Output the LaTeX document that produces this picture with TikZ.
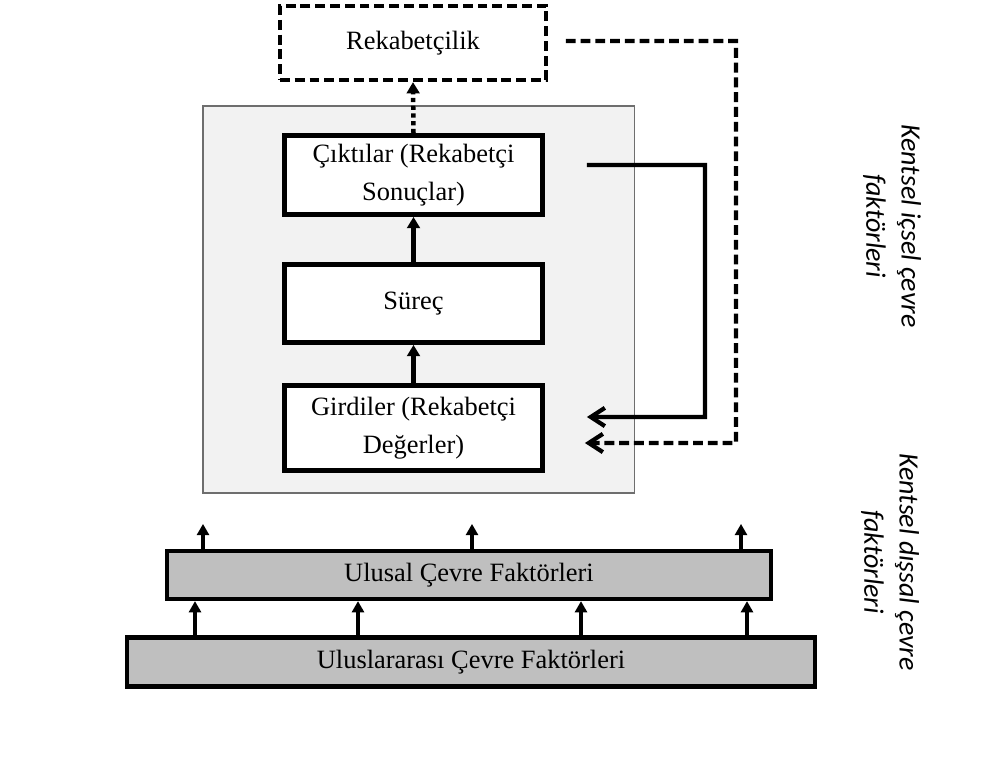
\documentclass[tikz,border=0pt]{standalone}
\usepackage{fontspec}
\setmainfont{Liberation Serif}
\newfontfamily\sidefont{Carlito}
\usepackage{xcolor}
\definecolor{panelbg}{HTML}{F2F2F2}
\definecolor{panelline}{HTML}{6E6E6E}
\definecolor{barbg}{HTML}{BFBFBF}
\usetikzlibrary{arrows.meta,positioning}

\tikzset{
  stagebox/.style={draw, line width=3.4pt, fill=white, minimum width=6.45cm,
    align=center, font=\fontsize{18.8}{27}\selectfont},
  goalbox/.style={draw, line width=3pt, fill=white, minimum width=6.65cm,
    minimum height=1.85cm, dash pattern=on 7pt off 3.5pt,
    font=\fontsize{18.8}{27}\selectfont},
  panel/.style={draw=panelline, line width=0.8pt, fill=panelbg,
    minimum width=10.775cm, minimum height=9.675cm},
  envbar/.style={draw, line width=3pt, fill=barbg, minimum height=1.2cm,
    font=\fontsize{18.8}{27}\selectfont},
  flow/.style={line width=3.2pt, -{Triangle[length=8pt,width=9pt]}},
  uparrow/.style={line width=3pt, -{Triangle[length=8pt,width=8.5pt]}},
  loopline/.style={line width=3pt, line join=miter,
    -{Straight Barb[length=10pt,width=13pt,line width=3pt]}},
  sidetext/.style={rotate=-90, align=center,
    font=\sidefont\itshape\fontsize{19.9}{25}\selectfont}
}

\begin{document}
\begin{tikzpicture}[x=0.025cm,y=-0.025cm]
  \useasboundingbox (0,0) rectangle (986,760);
  % Kentsel icsel cevre
  \node[panel] (icpanel) at (418.5,299.5) {};
  \node[goalbox] (rek) at (413,43) {Rekabetçilik};
  \node[stagebox, minimum height=1.975cm] (cikti) at (413.5,175) {Çıktılar (Rekabetçi\\Sonuçlar)};
  \node[stagebox, minimum height=1.95cm] (surec) at (413.5,303.5) {Süreç};
  \node[stagebox, minimum height=2.125cm] (girdi) at (413.5,428) {Girdiler (Rekabetçi\\Değerler)};
  % Akis
  \draw[flow] (girdi.north) -- (surec.south);
  \draw[flow] (surec.north) -- (cikti.south);
  \draw[flow, dash pattern=on 3pt off 2.5pt] (cikti.north) -- (rek.south);
  % Geri besleme
  \coordinate (loopA) at (705,165);
  \coordinate (loopB) at (705,417);
  \draw[loopline] ([xshift=1.05cm,yshift=0.25cm]cikti.east) -- (loopA) -- (loopB)
    -- ([xshift=1.05cm,yshift=0.275cm]girdi.east);
  \coordinate (loopC) at (736,41);
  \coordinate (loopD) at (736,443);
  \draw[loopline, dash pattern=on 7pt off 3.5pt] ([xshift=0.44cm,yshift=0.05cm]rek.east)
    -- (loopC) -- (loopD) -- ([xshift=1.0cm,yshift=-0.375cm]girdi.east);
  % Kentsel dissal cevre
  \node[envbar, minimum width=15.1cm] (ulusal) at (469,575) {Ulusal Çevre Faktörleri};
  \node[envbar, minimum width=17.2cm, minimum height=1.225cm] (ulusl) at (471,662) {Uluslararası Çevre Faktörleri};
  \foreach \x in {203,472,741}
    \draw[uparrow] (\x,0 |- ulusal.north) -- ++(0,-25);
  \foreach \x in {195,358,581,747}
    \draw[uparrow] (\x,0 |- ulusl.north) -- (\x,0 |- ulusal.south);
  % Etiketler
  \node[sidetext] (iclab) at (892,226) {Kentsel içsel çevre\\faktörleri};
  \node[sidetext] (dislab) at (890,562) {Kentsel dışsal çevre\\faktörleri};
\end{tikzpicture}
\end{document}
